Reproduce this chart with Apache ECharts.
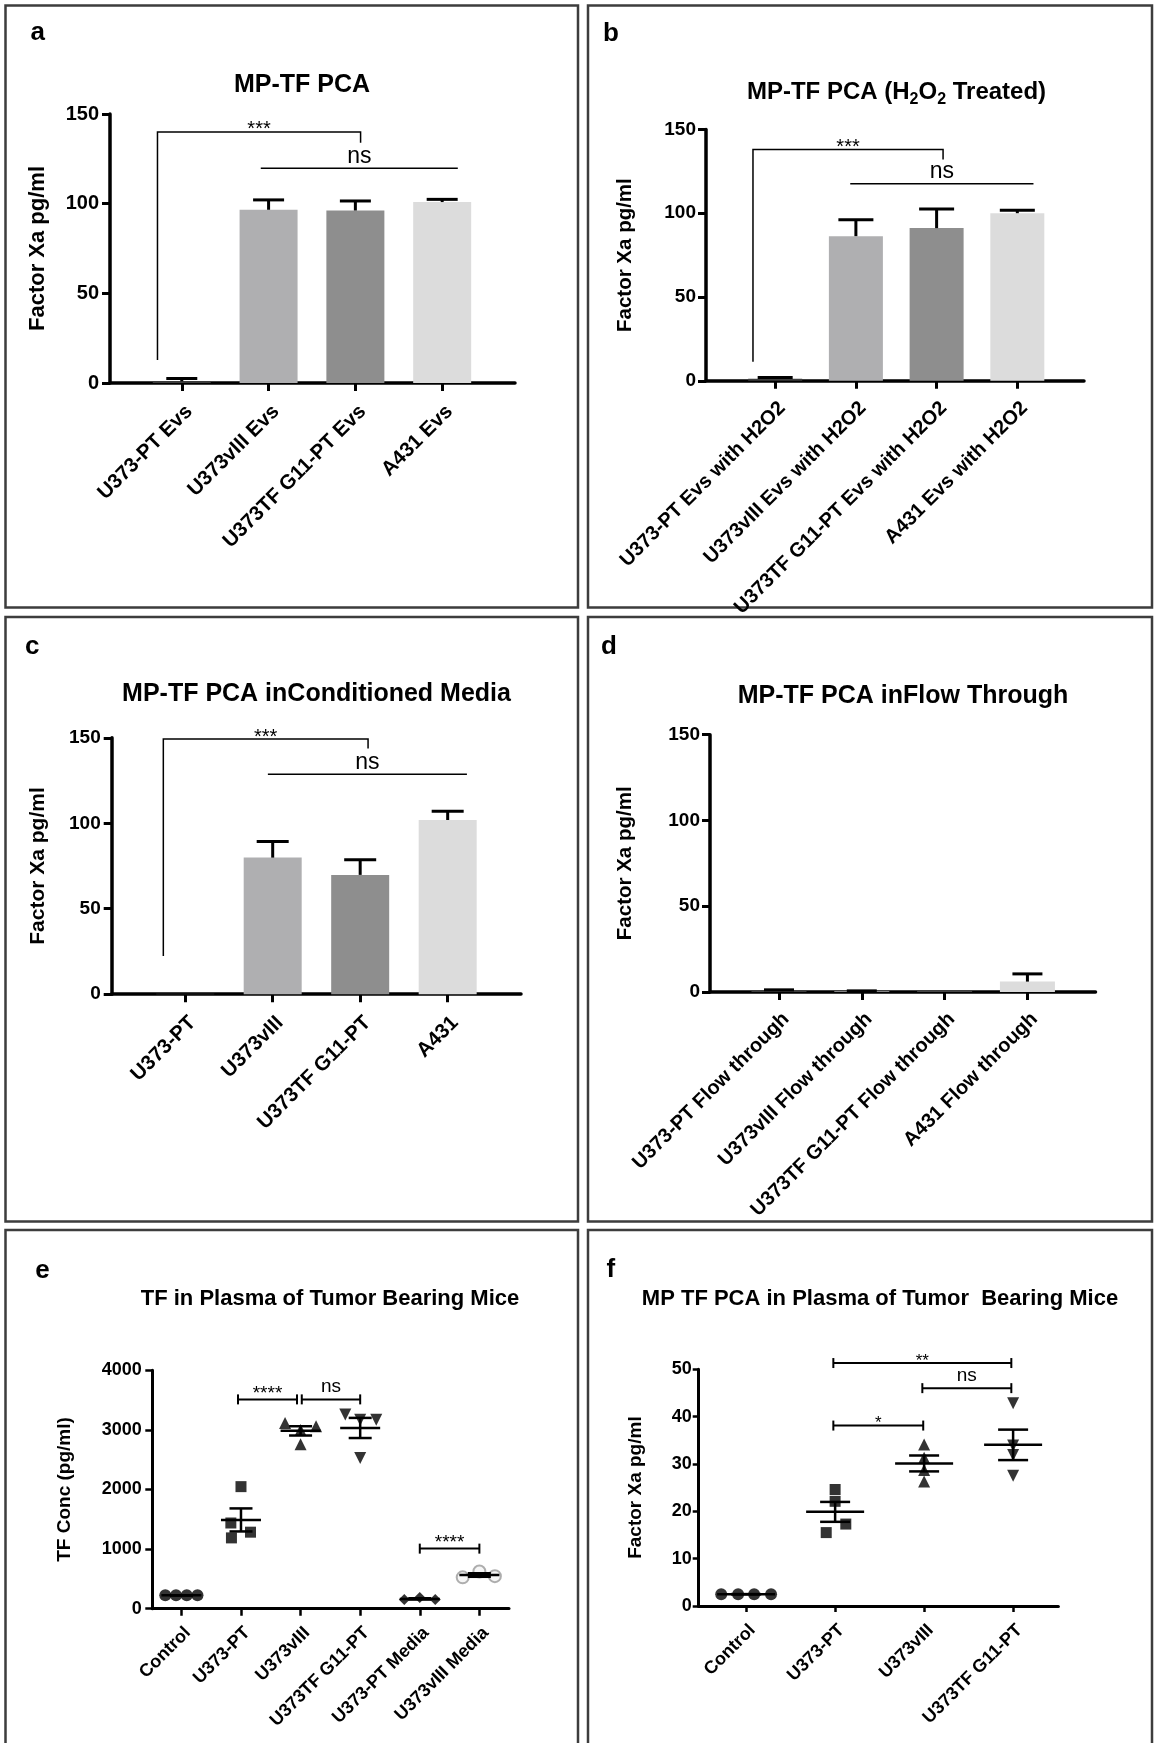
<!DOCTYPE html>
<html>
<head>
<meta charset="utf-8">
<script src="https://cdn.jsdelivr.net/npm/echarts@6/dist/echarts.min.js"></script>
<style>
  html, body { margin: 0; padding: 0; background: #fff; }
  #chart { width: 1154px; height: 1743px; }
</style>
</head>
<body>
<div id="chart"></div>
<script>
// ---------- data ----------
// a: MP-TF PCA of EVs (mean, SEM)
const catsA = ['U373-PT Evs', 'U373vIII Evs', 'U373TF G11-PT Evs', 'A431 Evs'];
const meanA = [1.0, 96.6, 96.2, 100.9];
const semA  = [1.5, 5.5, 5.3, 1.5];

// b: H2O2 treated EVs
const catsB = ['U373-PT Evs with H2O2', 'U373vIII Evs with H2O2', 'U373TF G11-PT Evs with H2O2', 'A431 Evs with H2O2'];
const meanB = [1.2, 86.3, 91.1, 100.0];
const semB  = [0.8, 9.8, 11.4, 1.8];

// c: conditioned media
const catsC = ['U373-PT', 'U373vIII', 'U373TF G11-PT', 'A431'];
const meanC = [0.3, 79.9, 69.8, 101.9];
const semC  = [0, 9.4, 8.8, 5.1];

// d: flow through
const catsD = ['U373-PT Flow through', 'U373vIII Flow through', 'U373TF G11-PT Flow through', 'A431 Flow through'];
const meanD = [0.8, 0.4, 0.2, 6.0];
const semD  = [0.4, 0.2, 0, 4.5];

const yTicksBar = [0, 50, 100, 150];

// e: TF in plasma, individual mice
const catsE = ['Control', 'U373-PT', 'U373vIII', 'U373TF G11-PT', 'U373-PT Media', 'U373vIII Media'];
const pointsE = [
  [225, 225, 225, 225],
  [2048, 1438, 1188, 1284],
  [3114, 2998, 3062, 2761],
  [3260, 3170, 3170, 2530],
  [154, 186, 154],
  [526, 623, 546]
];
// horizontal spread of overlapping points, in category units
const jitterE = [
  [-0.27, -0.09, 0.09, 0.27],
  [0, -0.17, -0.16, 0.16],
  [-0.26, 0, 0.26, 0],
  [-0.25, 0, 0.27, 0],
  [-0.26, 0, 0.26],
  [-0.28, 0, 0.26]
];
const yTicksE = [0, 1000, 2000, 3000, 4000];

// f: MP TF PCA in plasma
const catsF = ['Control', 'U373-PT', 'U373vIII', 'U373TF G11-PT'];
const pointsF = [
  [2.5, 2.5, 2.5, 2.5],
  [24.6, 22.1, 17.3, 15.5],
  [34.1, 31.3, 28.7, 26.3],
  [42.8, 33.9, 31.9, 27.5]
];
const jitterF = [
  [-0.28, -0.09, 0.09, 0.28],
  [0, 0, 0.12, -0.10],
  [0, 0, 0, 0],
  [0, 0, 0, 0]
];
const yTicksF = [0, 10, 20, 30, 40, 50];

// significance brackets: [fromX, toX, barY, leftDropY, rightDropY, label]
const sigA = [[-0.28, 2.06, 140, 12.8, 134, '***'], [0.91, 3.18, 119.7, null, null, 'ns']];
const sigB = [[-0.275, 2.08, 138, 11.4, 132, '***'], [0.93, 3.2, 117.6, null, null, 'ns']];
const sigC = [[-0.25, 2.09, 149.3, 22.4, 143.7, '***'], [0.945, 3.22, 128.7, null, null, 'ns']];
const sigD = [];
const sigE = [[0.95, 1.94, 3512, null, null, '****'], [2.02, 3.0, 3512, null, null, 'ns'], [4.0, 5.0, 1008, null, null, '****']];
const sigF = [[0.98, 2.98, 51.3, null, null, '**'], [1.98, 2.98, 46.0, null, null, 'ns'], [0.98, 1.99, 38.1, null, null, '*']];

// ---------- styles & layout ----------
const FONT = '"Liberation Sans", Arial, Helvetica, sans-serif';
const BAR_COLORS = ['#3d3d3d', '#afafb1', '#8e8e8e', '#dcdcdc'];
const SYMBOLS_E = [
  { symbol: 'circle', size: 12, style: { color: '#000' } },
  { symbol: 'rect', size: 11, style: { color: '#000' } },
  { symbol: 'triangle', size: 12, style: { color: '#000' } },
  { symbol: 'triangle', size: 12, rotate: 180, style: { color: '#000' } },
  { symbol: 'diamond', size: 11, style: { color: '#000' } },
  { symbol: 'circle', size: 12, style: { color: '#f4f4f4', borderColor: '#9a9a9a', borderWidth: 2 } }
];
const SYMBOLS_F = SYMBOLS_E.slice(0, 4);

const LAYOUT = {
  a: { left: 110, top: 114, width: 405, height: 269, xMin: -0.827, xMax: 3.839, axisW: 3.5, tickLen: 8,
       xLabelSize: 20.5, xLabelMargin: 18, yLabelSize: 20, yLabelMargin: 11,
       yName: 'Factor Xa pg/ml', yNameSize: 22, yNameGap: 61, barW: 58, capW: 31,
       astSize: 20, nsSize: 23, astDy: -2, nsDy: -12 },
  b: { left: 706, top: 129.4, width: 378, height: 251.4, xMin: -0.857, xMax: 3.826, axisW: 3.5, tickLen: 8,
       xLabelSize: 20, xLabelMargin: 17, yLabelSize: 19, yLabelMargin: 10,
       yName: 'Factor Xa pg/ml', yNameSize: 20.5, yNameGap: 70, barW: 54, capW: 35,
       astSize: 20, nsSize: 23, astDy: -2, nsDy: -12 },
  c: { left: 111.7, top: 737.8, width: 409.3, height: 256.4, xMin: -0.84, xMax: 3.838, axisW: 3.5, tickLen: 8,
       xLabelSize: 20.5, xLabelMargin: 18, yLabelSize: 19, yLabelMargin: 11,
       yName: 'Factor Xa pg/ml', yNameSize: 21, yNameGap: 63, barW: 58, capW: 32,
       astSize: 20, nsSize: 23, astDy: -2, nsDy: -12 },
  d: { left: 710, top: 734.7, width: 385.5, height: 257.2, xMin: -0.833, xMax: 3.822, axisW: 3.5, tickLen: 8,
       xLabelSize: 20, xLabelMargin: 17, yLabelSize: 19, yLabelMargin: 10,
       yName: 'Factor Xa pg/ml', yNameSize: 20.5, yNameGap: 74, barW: 55, capW: 30,
       astSize: 20, nsSize: 23, astDy: -2, nsDy: -12 },
  e: { left: 152.3, top: 1370.3, width: 356.7, height: 238.4, xMin: -0.488, xMax: 5.497, axisW: 3, tickLen: 7,
       xLabelSize: 18, xLabelMargin: 15, yLabelSize: 18, yLabelMargin: 10.5,
       yName: 'TF Conc (pg/ml)', yNameSize: 19, yNameGap: 78, meanHalf: 20, capHalf: 11.5,
       astSize: 19, nsSize: 19, astDy: -6, nsDy: -13 },
  f: { left: 698.7, top: 1369.2, width: 359.7, height: 236.8, xMin: -0.533, xMax: 3.509, axisW: 3, tickLen: 6,
       xLabelSize: 18, xLabelMargin: 15, yLabelSize: 18, yLabelMargin: 7,
       yName: 'Factor Xa pg/ml', yNameSize: 19, yNameGap: 53, meanHalf: 29, capHalf: 15,
       astSize: 17, nsSize: 19, astDy: -2, nsDy: -12 }
};

const grids = [], xAxes = [], yAxes = [], series = [];

function addAxes(idx, cats, yTicks, L) {
  const ticks = cats.map((_, k) => k);
  grids.push({ left: L.left, top: L.top, width: L.width, height: L.height, containLabel: false, outerBoundsMode: 'none' });
  xAxes.push({
    gridIndex: idx, type: 'value', min: L.xMin, max: L.xMax,
    axisLine: { show: true, onZero: false, lineStyle: { color: '#000', width: L.axisW } },
    axisTick: { show: true, customValues: ticks, length: L.tickLen, lineStyle: { color: '#000', width: L.axisW - 0.5 } },
    axisLabel: { show: true, customValues: ticks, formatter: v => cats[Math.round(v)] || '', rotate: 45,
                 align: 'right', verticalAlign: 'top',
                 margin: L.xLabelMargin, color: '#000', fontFamily: FONT, fontWeight: 'bold', fontSize: L.xLabelSize },
    splitLine: { show: false }
  });
  yAxes.push({
    gridIndex: idx, type: 'value', min: yTicks[0], max: yTicks[yTicks.length - 1], interval: yTicks[1] - yTicks[0],
    axisLine: { show: true, onZero: false, lineStyle: { color: '#000', width: L.axisW } },
    axisTick: { show: true, length: L.tickLen, lineStyle: { color: '#000', width: L.axisW - 0.5 } },
    axisLabel: { margin: L.yLabelMargin, color: '#000', fontFamily: FONT, fontWeight: 'bold', fontSize: L.yLabelSize,
                 formatter: v => String(v) },
    splitLine: { show: false },
    name: L.yName, nameLocation: 'middle', nameGap: L.yNameGap, nameRotate: 90,
    nameTextStyle: { color: '#000', fontFamily: FONT, fontWeight: 'bold', fontSize: L.yNameSize }
  });
}

function addBrackets(idx, sig, L, whisker) {
  if (!sig.length) return;
  series.push({
    type: 'custom', xAxisIndex: idx, yAxisIndex: idx, clip: false, silent: true, z: 5,
    data: sig.map(s => [s[0], s[2]]), encode: { x: 0, y: 1 },
    renderItem: (p, api) => {
      const s = sig[p.dataIndex];
      const y = api.coord([0, s[2]])[1];
      const x1 = api.coord([s[0], 0])[0];
      const x2 = api.coord([s[1], 0])[0];
      const lw = whisker ? 2 : 1.5;
      const st = { stroke: '#000', lineWidth: lw, fill: null };
      const pts = [];
      if (s[3] != null) pts.push([x1, api.coord([0, s[3]])[1]]);
      pts.push([x1, y], [x2, y]);
      if (s[4] != null) pts.push([x2, api.coord([0, s[4]])[1]]);
      const kids = [{ type: 'polyline', shape: { points: pts }, style: st }];
      if (whisker) {
        kids.push({ type: 'line', shape: { x1: x1, y1: y - 5, x2: x1, y2: y + 5 }, style: st });
        kids.push({ type: 'line', shape: { x1: x2, y1: y - 5, x2: x2, y2: y + 5 }, style: st });
      }
      const isNs = s[5] === 'ns';
      kids.push({
        type: 'text', x: (x1 + x2) / 2, y: y + (isNs ? L.nsDy : L.astDy),
        style: { text: s[5], fill: '#000', align: 'center', verticalAlign: 'middle',
                 font: (isNs ? L.nsSize : L.astSize) + 'px ' + FONT }
      });
      return { type: 'group', children: kids };
    }
  });
}

function barPanel(idx, cats, means, sems, sig, L) {
  addAxes(idx, cats, yTicksBar, L);
  series.push({
    type: 'bar', xAxisIndex: idx, yAxisIndex: idx, barWidth: L.barW, silent: true, z: 2,
    data: means.map((m, k) => ({ value: [k, m], itemStyle: { color: BAR_COLORS[k] } }))
  });
  series.push({
    type: 'custom', xAxisIndex: idx, yAxisIndex: idx, clip: false, silent: true, z: 3,
    data: means.map((m, k) => [k, m, sems[k]]), encode: { x: 0, y: 1 },
    renderItem: (p, api) => {
      const k = api.value(0), m = api.value(1), s = api.value(2);
      if (!(s > 0)) return { type: 'group', children: [] };
      const a = api.coord([k, m]), b = api.coord([k, m + s]);
      const h = L.capW / 2;
      const st = { stroke: '#000', lineWidth: 3 };
      return { type: 'group', children: [
        { type: 'line', shape: { x1: a[0], y1: a[1], x2: b[0], y2: b[1] }, style: st },
        { type: 'line', shape: { x1: b[0] - h, y1: b[1], x2: b[0] + h, y2: b[1] }, style: st }
      ] };
    }
  });
  addBrackets(idx, sig, L, false);
}

function meanSem(vals) {
  const n = vals.length;
  const m = vals.reduce((a, b) => a + b, 0) / n;
  const sd = Math.sqrt(vals.reduce((a, b) => a + (b - m) * (b - m), 0) / (n - 1));
  return [m, sd / Math.sqrt(n)];
}

function dotPanel(idx, cats, points, jitter, symbols, yTicks, sig, L) {
  addAxes(idx, cats, yTicks, L);
  points.forEach((vals, k) => {
    const sy = symbols[k];
    series.push({
      type: 'scatter', xAxisIndex: idx, yAxisIndex: idx, silent: true, z: 3,
      symbol: sy.symbol, symbolSize: sy.size, symbolRotate: sy.rotate || 0, itemStyle: sy.style,
      data: vals.map((v, j) => [k + jitter[k][j], v])
    });
  });
  series.push({
    type: 'custom', xAxisIndex: idx, yAxisIndex: idx, clip: false, silent: true, z: 4,
    data: points.map((vals, k) => [k].concat(meanSem(vals))), encode: { x: 0, y: 1 },
    renderItem: (p, api) => {
      const k = api.value(0), m = api.value(1), s = api.value(2);
      const c = api.coord([k, m]), hi = api.coord([k, m + s]), lo = api.coord([k, m - s]);
      const st = { stroke: '#000', lineWidth: 2.5 };
      return { type: 'group', children: [
        { type: 'line', shape: { x1: c[0] - L.meanHalf, y1: c[1], x2: c[0] + L.meanHalf, y2: c[1] }, style: st },
        { type: 'line', shape: { x1: hi[0], y1: hi[1], x2: lo[0], y2: lo[1] }, style: st },
        { type: 'line', shape: { x1: hi[0] - L.capHalf, y1: hi[1], x2: hi[0] + L.capHalf, y2: hi[1] }, style: st },
        { type: 'line', shape: { x1: lo[0] - L.capHalf, y1: lo[1], x2: lo[0] + L.capHalf, y2: lo[1] }, style: st }
      ] };
    }
  });
  addBrackets(idx, sig, L, true);
}

barPanel(0, catsA, meanA, semA, sigA, LAYOUT.a);
barPanel(1, catsB, meanB, semB, sigB, LAYOUT.b);
barPanel(2, catsC, meanC, semC, sigC, LAYOUT.c);
barPanel(3, catsD, meanD, semD, sigD, LAYOUT.d);
dotPanel(4, catsE, pointsE, jitterE, SYMBOLS_E, yTicksE, sigE, LAYOUT.e);
dotPanel(5, catsF, pointsF, jitterF, SYMBOLS_F, yTicksF, sigF, LAYOUT.f);

// ---------- frames, panel letters, titles ----------
const frames = [
  [5.5, 5.5, 572.5, 602], [588, 5.5, 564, 602],
  [5.5, 617, 572.5, 604.5], [588, 617, 564, 604.5],
  [5.5, 1230, 572.5, 520], [588, 1230, 564, 520]
];
const letters = [['a', 30.6, 33], ['b', 603, 34], ['c', 24.9, 646.5], ['d', 601, 646.5], ['e', 35.2, 1271], ['f', 606.4, 1270]];
const titles = [
  ['MP-TF PCA', 302, 85, 25],
  ['MP-TF PCA inConditioned Media', 316.5, 694.6, 25],
  ['MP-TF PCA inFlow Through', 903, 695.7, 25],
  ['TF in Plasma of Tumor Bearing Mice', 330, 1298.5, 22],
  ['MP TF PCA in Plasma of Tumor  Bearing Mice', 880, 1298.8, 22]
];

const elements = [];
frames.forEach(f => elements.push({
  type: 'rect', shape: { x: f[0], y: f[1], width: f[2], height: f[3] },
  style: { fill: null, stroke: '#3d3d3d', lineWidth: 2.5 }, silent: true
}));
letters.forEach(t => elements.push({
  type: 'text', x: t[1], y: t[2],
  style: { text: t[0], fill: '#000', align: 'left', verticalAlign: 'middle', font: 'bold 26px ' + FONT }
}));
titles.forEach(t => elements.push({
  type: 'text', x: t[1], y: t[2],
  style: { text: t[0], fill: '#000', align: 'center', verticalAlign: 'middle', font: 'bold ' + t[3] + 'px ' + FONT }
}));
elements.push({
  type: 'text', x: 896.5, y: 92.8,
  style: {
    text: '{t|MP-TF PCA (H}{s|2}{t|O}{s|2}{t| Treated)}',
    align: 'center', verticalAlign: 'middle', fill: '#000',
    rich: {
      t: { fontFamily: FONT, fontWeight: 'bold', fontSize: 24, fill: '#000' },
      s: { fontFamily: FONT, fontWeight: 'bold', fontSize: 16, fill: '#000', padding: [14, 0, 0, 0] }
    }
  }
});

const chart = echarts.init(document.getElementById('chart'), null, { renderer: 'canvas' });
chart.setOption({
  animation: false,
  backgroundColor: '#fff',
  grid: grids,
  xAxis: xAxes,
  yAxis: yAxes,
  series: series,
  graphic: { elements: elements }
});
</script>
</body>
</html>
